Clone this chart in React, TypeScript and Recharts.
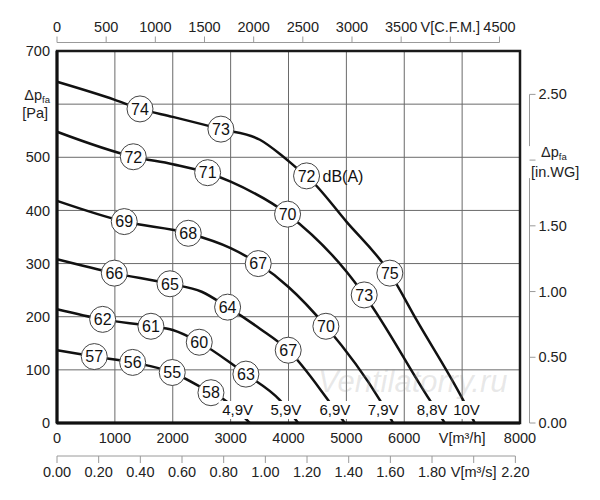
import { ComposedChart, Line, Scatter, XAxis, YAxis, CartesianGrid, ReferenceArea } from 'recharts';

const FONT = '"Liberation Sans", Arial, sans-serif';
const INK = '#222';
const AXIS_GREY = '#9a9a9a';

// flow V in m³/h, pressure Δp in Pa, db = sound level printed in the circle
const CURVE_49V = [
  { x: 0, y: 137 },
  { x: 644, y: 125, db: 57 },
  { x: 1307, y: 114, db: 56 },
  { x: 1991, y: 95, db: 55 },
  { x: 2660, y: 57, db: 58 },
  { x: 2873, y: 45 },
  { x: 3333, y: 0 },
];
const CURVE_59V = [
  { x: 0, y: 214 },
  { x: 789, y: 195, db: 62 },
  { x: 1623, y: 182, db: 61 },
  { x: 2000, y: 175 },
  { x: 2458, y: 152, db: 60 },
  { x: 3000, y: 113 },
  { x: 3264, y: 92, db: 63 },
  { x: 3851, y: 43 },
  { x: 4167, y: 0 },
];
const CURVE_69V = [
  { x: 0, y: 308 },
  { x: 990, y: 282, db: 66 },
  { x: 1952, y: 262, db: 65 },
  { x: 2500, y: 247 },
  { x: 2948, y: 218, db: 64 },
  { x: 3500, y: 178 },
  { x: 3995, y: 137, db: 67 },
  { x: 4686, y: 43 },
  { x: 4974, y: 0 },
];
const CURVE_79V = [
  { x: 0, y: 418 },
  { x: 1162, y: 379, db: 69 },
  { x: 2268, y: 357, db: 68 },
  { x: 3000, y: 329 },
  { x: 3477, y: 300, db: 67 },
  { x: 4000, y: 256 },
  { x: 4646, y: 182, db: 70 },
  { x: 5579, y: 43 },
  { x: 5808, y: 0 },
];
const CURVE_88V = [
  { x: 0, y: 548 },
  { x: 1318, y: 501, db: 72 },
  { x: 2000, y: 487 },
  { x: 2603, y: 471, db: 71 },
  { x: 3000, y: 454 },
  { x: 3984, y: 393, db: 70 },
  { x: 5000, y: 285 },
  { x: 5308, y: 241, db: 73 },
  { x: 6442, y: 43 },
  { x: 6701, y: 0 },
];
const CURVE_10V = [
  { x: 0, y: 642 },
  { x: 1000, y: 608 },
  { x: 1434, y: 591, db: 74 },
  { x: 2000, y: 576 },
  { x: 2832, y: 553, db: 73 },
  { x: 3506, y: 533 },
  { x: 3900, y: 502 },
  { x: 4140, y: 480 },
  { x: 4312, y: 465, db: 72, unit: 'dB(A)' },
  { x: 5000, y: 379 },
  { x: 5751, y: 282, db: 75 },
  { x: 6212, y: 194 },
  { x: 7018, y: 43 },
  { x: 7219, y: 0 },
];
const CURVES = [CURVE_49V, CURVE_59V, CURVE_69V, CURVE_79V, CURVE_88V, CURVE_10V];

const VOLT_LABELS = [
  { x: 3121, y: 24.5, text: '4,9V' },
  { x: 3955, y: 24.5, text: '5,9V' },
  { x: 4801, y: 24.5, text: '6,9V' },
  { x: 5636, y: 24.5, text: '7,9V' },
  { x: 6482, y: 24.5, text: '8,8V' },
  { x: 7076, y: 24.5, text: '10V' },
];

const FLOW_TICKS = [0, 1000, 2000, 3000, 4000, 5000, 6000, 7000, 8000];
const PA_TICKS = [0, 100, 200, 300, 400, 500, 600, 700];
const CFM_TICKS = [0, 500, 1000, 1500, 2000, 2500, 3000, 3500, 4000, 4500];
const M3S_TICKS = [0, 0.2, 0.4, 0.6, 0.8, 1.0, 1.2, 1.4, 1.6, 1.8, 2.0, 2.2];
const INWG_TICKS = [0, 0.5, 1.0, 1.5, 2.0, 2.5];

const CFM_PER_M3H = 0.588578;
const FLOW_MAX = 8000;
const PA_MAX = 700;
const CFM_MAX = FLOW_MAX * CFM_PER_M3H;
const M3S_MAX = FLOW_MAX / 3600;
const INWG_MAX = 2.83;

// the top curve again in the units of the top and second bottom scale (drawn invisibly so those scales get data)
const CURVE_10V_CFM = CURVE_10V.map((p) => ({ x: p.x * CFM_PER_M3H, y: p.y }));
const CURVE_10V_M3S = CURVE_10V.map((p) => ({ x: p.x / 3600, y: p.y }));

const W = 600;
const H = 500;
const LEFT_W = 57;
const RIGHT_W = 80;
const TOP_H = 51;
const BOTTOM_H1 = 33;
const BOTTOM_H2 = 44;
const PLOT_W = W - LEFT_W - RIGHT_W;
const PLOT_H = H - TOP_H - BOTTOM_H1 - BOTTOM_H2;

const txt = { fontFamily: FONT, fontSize: 14.5, fill: INK } as const;

const Sub = ({ children }: any) => (
  <tspan fontSize={9.5} dy={3}>{children}</tspan>
);

const PaTick = ({ x, y, payload }: any) => {
  if (payload.value === 600) {
    return (
      <g>
        <text x={x - 7} y={y - 4} textAnchor="end" {...txt}>Δp<Sub>fa</Sub></text>
        <text x={x - 9} y={y + 13.5} textAnchor="end" {...txt}>[Pa]</text>
      </g>
    );
  }
  return <text x={x - 7} y={y} dy="0.35em" textAnchor="end" {...txt}>{payload.value}</text>;
};

const FlowTick = ({ x, y, payload }: any) => (
  <text x={x} y={y + 20} textAnchor="middle" {...txt}>
    {payload.value === 7000 ? 'V[m³/h]' : payload.value}
  </text>
);

const M3sTick = ({ x, y, payload }: any) => (
  <g>
    <line x1={x} y1={y} x2={x} y2={y + 7} stroke={AXIS_GREY} />
    <text x={x} y={y + 21} textAnchor="middle" {...txt}>
      {payload.value === 2 ? 'V[m³/s]' : Number(payload.value).toFixed(2)}
    </text>
  </g>
);

const CfmTick = ({ x, y, payload }: any) => {
  const ly = y - 8.5;
  return (
    <g>
      <line x1={x} y1={ly} x2={x} y2={ly - 6} stroke={AXIS_GREY} />
      <text x={x} y={ly - 11} textAnchor="middle" {...txt}>
        {payload.value === 4000 ? 'V[C.F.M.]' : payload.value}
      </text>
    </g>
  );
};

const InwgTick = ({ x, y, payload }: any) => {
  const lx = x + 9.5;
  const v = payload.value;
  return (
    <g>
      <line x1={lx} y1={y} x2={lx + 6} y2={y} stroke={AXIS_GREY} />
      {v === 2 ? (
        <>
          <text x={lx + 11.5} y={y - 3} {...txt}>Δp<Sub>fa</Sub></text>
          <text x={lx + 1.5} y={y + 16.5} {...txt}>[in.WG]</text>
        </>
      ) : (
        <text x={lx + 9} y={y} dy="0.35em" {...txt}>{v.toFixed(2)}</text>
      )}
    </g>
  );
};

const renderDot = (props: any) => {
  const { cx, cy, payload, index } = props;
  if (payload.db === undefined) return <g key={`d-${index}`} />;
  return (
    <g key={`d-${index}`}>
      <circle cx={cx} cy={cy} r={13} fill="#fff" stroke="#444" strokeWidth={1} />
      <text x={cx} y={cy} dy="0.36em" textAnchor="middle" fontFamily={FONT} fontSize={16} fill="#111">
        {payload.db}
      </text>
      {payload.unit && (
        <text x={cx + 16} y={cy} dy="0.36em" fontFamily={FONT} fontSize={16} fill="#111">
          {payload.unit}
        </text>
      )}
    </g>
  );
};

const VoltLabel = (props: any) => {
  const { cx, cy, payload } = props;
  return (
    <g>
      <rect x={cx - 19} y={cy - 9} width={38} height={18} fill="#fff" />
      <text x={cx} y={cy} dy="0.36em" textAnchor="middle" fontFamily={FONT} fontSize={15} fill="#111">
        {payload.text}
      </text>
    </g>
  );
};

// the secondary scales only run over part of the plot, as in the drawing
const cfmLine = (PLOT_W * 4500) / CFM_MAX;
const m3sLine = (PLOT_W * 2.2) / M3S_MAX;
const inwgTop = PLOT_H * (1 - 2.5 / INWG_MAX);
const inwg2 = PLOT_H * (1 - 2 / INWG_MAX);
const inwgDash = `0 ${inwgTop} ${inwg2 - 14 - inwgTop} 32 1000`;

export default function App() {
  return (
    <div style={{ position: 'fixed', left: 0, top: 0, width: W, height: H, background: '#fff' }}>
      <ComposedChart width={W} height={H} margin={{ top: 0, right: 0, bottom: 0, left: 0 }}>
        <CartesianGrid xAxisId="m3h" yAxisId="pa" stroke="#6a6a6a" strokeWidth={1} />
        <XAxis
          xAxisId="m3h"
          dataKey="x"
          type="number"
          domain={[0, FLOW_MAX]}
          ticks={FLOW_TICKS}
          height={BOTTOM_H1}
          axisLine={{ stroke: '#111', strokeWidth: 3 }}
          tickLine={false}
          tickSize={0}
          tickMargin={0}
          tick={FlowTick}
          interval={0}
        />
        <XAxis
          xAxisId="m3s"
          dataKey="x"
          type="number"
          domain={[0, M3S_MAX]}
          allowDataOverflow
          ticks={M3S_TICKS}
          height={BOTTOM_H2}
          axisLine={{ stroke: AXIS_GREY, strokeDasharray: `${m3sLine} 1000` }}
          tickLine={false}
          tickSize={0}
          tickMargin={0}
          tick={M3sTick}
          interval={0}
        />
        <XAxis
          xAxisId="cfm"
          dataKey="x"
          orientation="top"
          type="number"
          domain={[0, CFM_MAX]}
          allowDataOverflow
          ticks={CFM_TICKS}
          height={TOP_H}
          axisLine={{ stroke: AXIS_GREY, strokeDasharray: `${cfmLine} 1000`, transform: 'translate(0,-8.5)' }}
          tickLine={false}
          tickSize={0}
          tickMargin={0}
          tick={CfmTick}
          interval={0}
        />
        <YAxis
          yAxisId="pa"
          type="number"
          domain={[0, PA_MAX]}
          ticks={PA_TICKS}
          width={LEFT_W}
          axisLine={{ stroke: '#111', strokeWidth: 3 }}
          tickLine={false}
          tickSize={0}
          tickMargin={0}
          tick={PaTick}
          interval={0}
        />
        <YAxis
          yAxisId="inwg"
          orientation="right"
          type="number"
          domain={[0, INWG_MAX]}
          allowDataOverflow
          ticks={INWG_TICKS}
          width={RIGHT_W}
          axisLine={{ stroke: AXIS_GREY, strokeDasharray: inwgDash, transform: 'translate(9.5,0)' }}
          tickLine={false}
          tickSize={0}
          tickMargin={0}
          tick={InwgTick}
          interval={0}
        />
        <ReferenceArea
          xAxisId="m3h"
          yAxisId="pa"
          x1={0}
          x2={FLOW_MAX}
          y1={0}
          y2={PA_MAX}
          fill="none"
          stroke="#1a1a1a"
          strokeWidth={2.5}
        />
        <Line
          xAxisId="cfm"
          yAxisId="pa"
          data={CURVE_10V_CFM}
          dataKey="y"
          stroke="none"
          dot={false}
          activeDot={false}
          isAnimationActive={false}
        />
        <Line
          xAxisId="m3s"
          yAxisId="pa"
          data={CURVE_10V_M3S}
          dataKey="y"
          stroke="none"
          dot={false}
          activeDot={false}
          isAnimationActive={false}
        />
        {CURVES.map((c, i) => (
          <Line
            key={i}
            xAxisId="m3h"
            yAxisId="pa"
            data={c}
            dataKey="y"
            type="monotone"
            stroke="#111"
            strokeWidth={2.5}
            dot={renderDot}
            activeDot={false}
            isAnimationActive={false}
          />
        ))}
        <Scatter
          xAxisId="m3h"
          yAxisId="pa"
          data={VOLT_LABELS}
          dataKey="y"
          shape={VoltLabel}
          isAnimationActive={false}
        />
      </ComposedChart>
      <div
        style={{
          position: 'absolute',
          left: 318,
          top: 366,
          fontFamily: FONT,
          fontSize: 31,
          lineHeight: 1,
          fontStyle: 'italic',
          color: 'rgba(150,150,150,0.22)',
          pointerEvents: 'none',
          whiteSpace: 'nowrap',
        }}
      >
        Ventilatorry.ru
      </div>
    </div>
  );
}
